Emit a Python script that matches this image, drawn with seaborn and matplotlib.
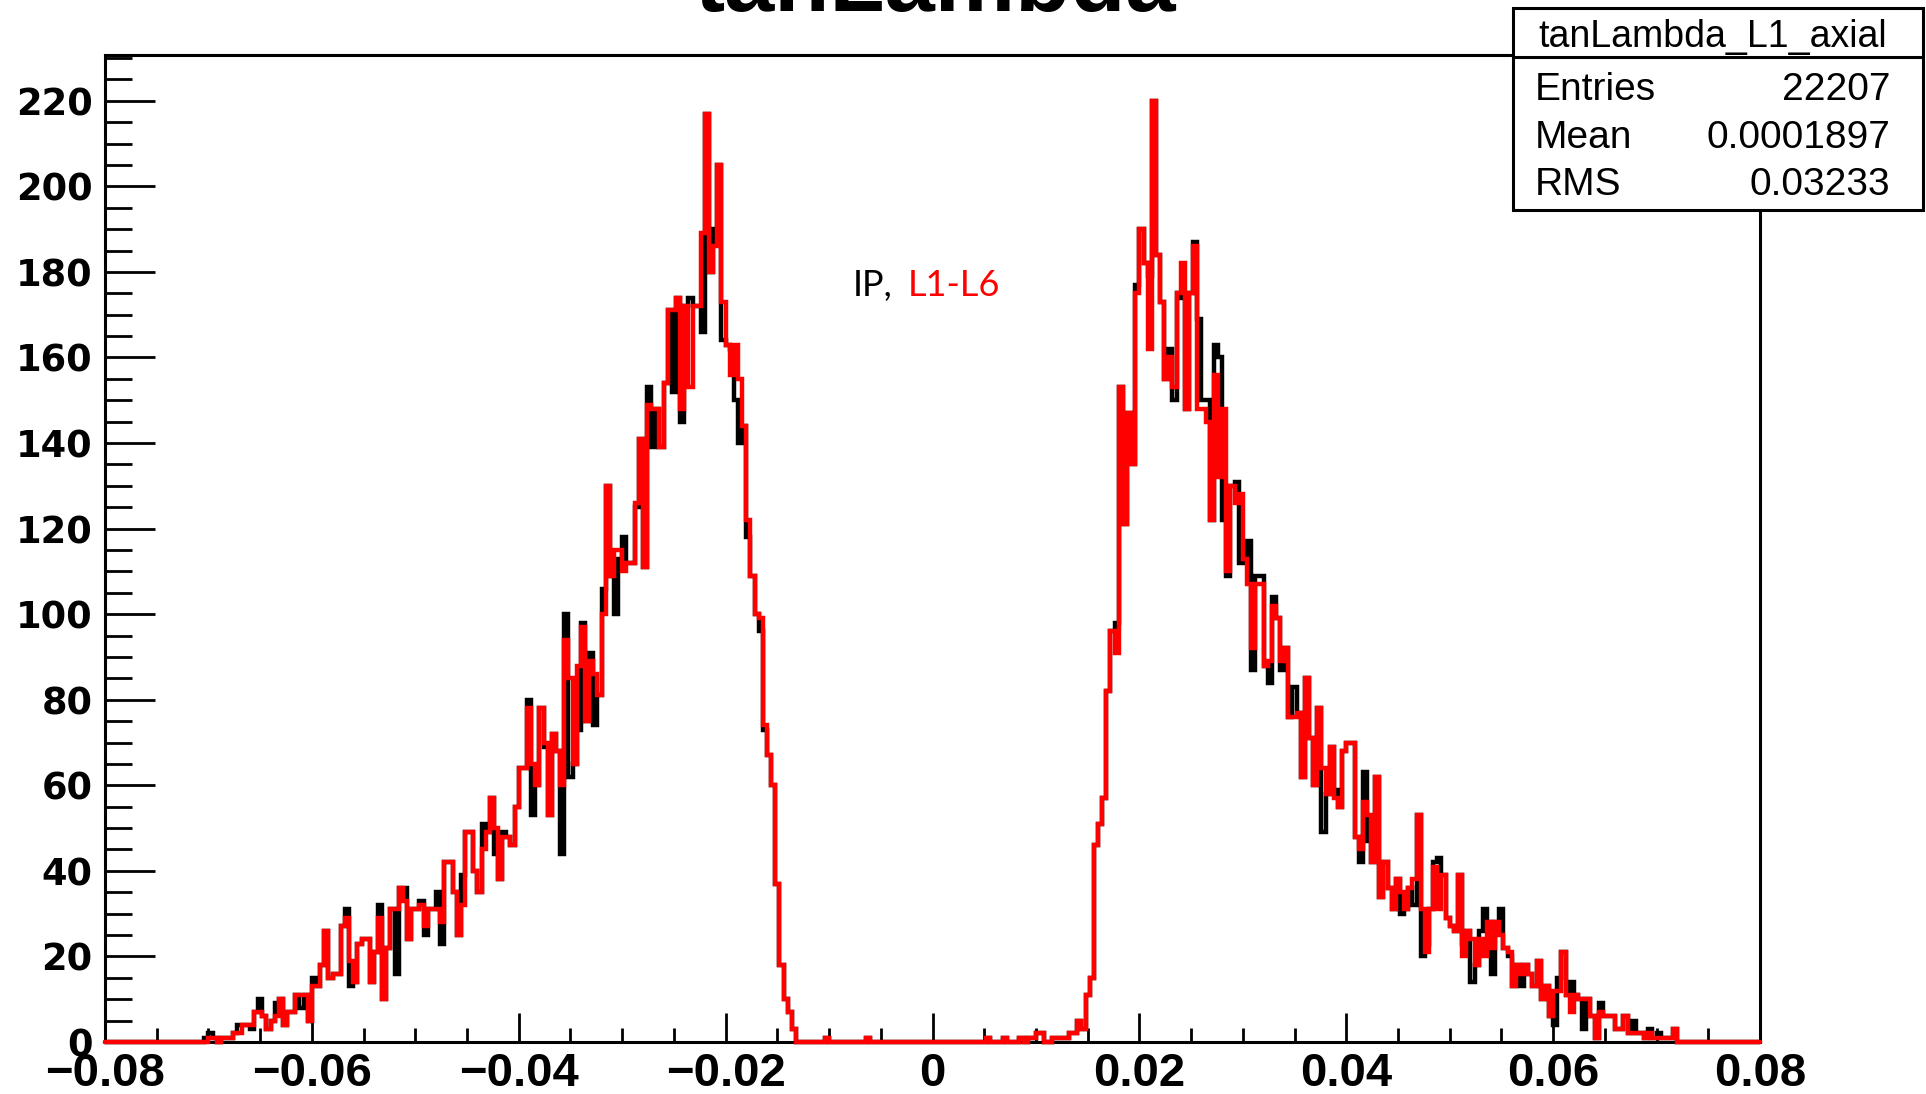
import numpy as np
import pandas as pd
import matplotlib
matplotlib.use("Agg")
import matplotlib.pyplot as plt
import seaborn as sns
from matplotlib.ticker import MultipleLocator
from matplotlib.patches import Rectangle
from matplotlib.lines import Line2D

# ---------------- data ----------------
N_BINS = 400
X_MIN, X_MAX = -0.08, 0.08

# red histogram "L1-L6": left peak, bins 25..166
red_left_first = 25
red_left = [
    1, 1, 0, 1, 1, 1, 2, 2, 4, 4,
    4, 7, 7, 6, 3, 5, 6, 10, 4, 7,
    7, 11, 11, 11, 5, 13, 13, 18, 26, 15,
    16, 16, 27, 29, 19, 14, 23, 24, 24, 14,
    21, 29, 10, 22, 31, 31, 36, 33, 24, 31,
    31, 32, 27, 31, 31, 31, 28, 42, 42, 35,
    25, 32, 49, 49, 40, 35, 45, 49, 57, 50,
    38, 48, 48, 46, 55, 64, 64, 78, 65, 60,
    78, 70, 53, 72, 68, 60, 94, 85, 65, 88,
    97, 75, 89, 86, 81, 100, 130, 109, 115, 115,
    110, 112, 112, 126, 141, 111, 149, 148, 148, 139,
    154, 171, 171, 174, 148, 172, 153, 172, 172, 189,
    217, 180, 186, 205, 173, 163, 156, 163, 155, 144,
    122, 109, 100, 99, 74, 67, 60, 37, 18, 10,
    7, 3,
]
# isolated entries in the central gap (bin, count)
red_center = [(174, 1), (184, 1), (213, 1), (217, 1), (221, 1), (223, 1),
              (224, 1), (225, 2), (226, 2), (229, 1), (230, 1)]
# right peak, bins 231..379
red_right_first = 231
red_right = [
    1, 1, 2, 2, 5, 3, 11, 15, 46, 51,
    57, 82, 96, 91, 153, 121, 147, 135, 175, 190,
    182, 162, 220, 184, 173, 155, 160, 153, 175, 182,
    148, 175, 186, 148, 148, 145, 122, 156, 132, 148,
    110, 130, 126, 128, 113, 107, 92, 107, 107, 88,
    89, 102, 99, 89, 92, 76, 76, 77, 62, 85,
    71, 60, 78, 64, 58, 69, 57, 55, 68, 70,
    70, 48, 45, 56, 53, 42, 62, 34, 42, 36,
    31, 38, 35, 31, 36, 38, 53, 31, 21, 31,
    41, 31, 39, 29, 27, 26, 39, 20, 26, 24,
    18, 24, 20, 28, 22, 28, 25, 22, 21, 13,
    18, 16, 18, 16, 13, 19, 10, 13, 6, 12,
    12, 21, 11, 7, 11, 10, 10, 10, 6, 1,
    7, 6, 6, 6, 3, 3, 6, 2, 2, 2,
    2, 1, 2, 1, 1, 1, 1, 1, 3,
]
# black histogram "IP": same as red except these bins (bin, count)
black_diff = [
    (24, 1), (25, 2), (32, 4), (35, 3), (37, 10), (41, 9), (47, 8), (50, 15),
    (58, 31), (59, 13), (66, 32), (70, 16), (72, 36), (76, 33), (77, 25),
    (80, 35), (81, 23), (86, 39), (91, 51), (94, 44), (96, 49), (102, 80),
    (103, 53), (106, 69), (110, 44), (111, 100), (112, 62), (114, 73),
    (115, 98), (117, 91), (118, 74), (120, 106), (123, 100), (124, 113),
    (125, 118), (128, 125), (131, 153), (132, 139), (137, 152), (139, 145),
    (141, 174), (144, 166), (147, 190), (149, 164), (151, 162), (152, 150),
    (153, 140), (155, 118), (158, 96), (159, 73),
    (244, 98), (249, 177), (252, 179), (257, 162), (258, 150), (260, 174),
    (263, 187), (264, 169), (265, 150), (266, 150), (268, 163), (269, 160),
    (270, 122), (271, 109), (273, 131), (274, 112), (276, 117), (277, 87),
    (278, 109), (279, 109), (281, 84), (282, 104), (284, 87), (287, 83),
    (294, 49), (297, 59), (303, 42), (304, 63), (305, 47), (313, 30),
    (316, 32), (318, 20), (319, 23), (321, 42), (322, 43), (328, 23),
    (330, 14), (332, 26), (333, 31), (335, 16), (337, 31), (339, 20),
    (342, 13), (350, 4), (351, 15), (354, 14), (357, 3), (361, 9),
    (369, 5), (373, 3), (375, 2),
]

xtick_vals = [-0.08, -0.06, -0.04, -0.02, 0.0, 0.02, 0.04, 0.06, 0.08]
xtick_labels = ["\u22120.08", "\u22120.06", "\u22120.04", "\u22120.02", "0",
                "0.02", "0.04", "0.06", "0.08"]
ytick_vals = list(range(0, 221, 20))
ytick_labels = [str(v) for v in ytick_vals]

stats_title = "tanLambda_L1_axial"
stats_names = ["Entries", "Mean", "RMS"]
stats_values = ["22207", "0.0001897", "0.03233"]

# ---------------- assemble ----------------
red = np.zeros(N_BINS)
red[red_left_first:red_left_first + len(red_left)] = red_left
for b, v in red_center:
    red[b] = v
red[red_right_first:red_right_first + len(red_right)] = red_right
black = red.copy()
for b, v in black_diff:
    black[b] = v

edges = np.linspace(X_MIN, X_MAX, N_BINS + 1)
centers = 0.5 * (edges[:-1] + edges[1:])
df = pd.DataFrame({
    "tanLambda": np.concatenate([centers, centers]),
    "count": np.concatenate([black, red]),
    "sample": ["IP"] * N_BINS + ["L1-L6"] * N_BINS,
})

# ---------------- figure ----------------
W, H = 1926, 1094
sns.set_style("white")
fig = plt.figure(figsize=(W / 100, H / 100), dpi=100)
fig.patch.set_facecolor("white")
L, R, T, B = 105, 1760, 55, 1042
ax = fig.add_axes([L / W, 1 - B / H, (R - L) / W, (B - T) / H])

for name, color in [("IP", "black"), ("L1-L6", "red")]:
    sns.histplot(data=df[df["sample"] == name], x="tanLambda", weights="count",
                 bins=N_BINS, binrange=(X_MIN, X_MAX), element="step",
                 fill=False, color=color, linewidth=3.2, ax=ax)

for i, ln in enumerate(ax.lines):
    ln.set_clip_on(False)
    ln.set_zorder(3 + i)
    ln.set_solid_joinstyle("miter")

ax.set_xlim(X_MIN, X_MAX)
ax.set_ylim(0, 230.7)
ax.set_xlabel("")
ax.set_ylabel("")

for s in ax.spines.values():
    s.set_visible(True)
    s.set_linewidth(2.2)
    s.set_color("black")
    s.set_zorder(2.5)

ax.set_xticks(xtick_vals, labels=xtick_labels, fontsize=34, fontweight="bold",
              family="Liberation Sans")
ax.set_yticks(ytick_vals, labels=ytick_labels, fontsize=26.5, fontweight="bold",
              family="DejaVu Sans")
ax.xaxis.set_minor_locator(MultipleLocator(0.005))
ax.yaxis.set_minor_locator(MultipleLocator(5))
ax.tick_params(axis="both", which="both", direction="in", top=False, right=False,
               bottom=True, left=True, color="black", labelcolor="black",
               width=2)
ax.tick_params(axis="x", which="major", length=21, pad=7)
ax.tick_params(axis="x", which="minor", length=10)
ax.tick_params(axis="y", which="major", length=36, pad=9)
ax.tick_params(axis="y", which="minor", length=19.5)

# title (cut off at the top edge, as in the reference)
fig.text(936 / W, 1 - 11 / H, "tanLambda", ha="center", va="baseline",
         fontsize=65, fontweight="bold", family="Liberation Sans", color="black")

# annotation
fig.text(853 / W, 1 - 296 / H, "IP,", ha="left", va="baseline", fontsize=26,
         family="Lato", color="black")
fig.text(908 / W, 1 - 296 / H, "L1-L6", ha="left", va="baseline", fontsize=26,
         family="Lato", color="red")

# stats box
bx0, bx1, by0, by1, bdiv = 1513, 1923, 8, 210, 57
fig.add_artist(Rectangle((bx0 / W, 1 - by1 / H), (bx1 - bx0) / W, (by1 - by0) / H,
                         transform=fig.transFigure, facecolor="white",
                         edgecolor="black", linewidth=2.2, zorder=10))
fig.add_artist(Line2D([bx0 / W, bx1 / W], [1 - bdiv / H, 1 - bdiv / H],
                      transform=fig.transFigure, color="black", linewidth=2.2,
                      zorder=11))
fig.text(1713 / W, 1 - 47 / H, stats_title, ha="center", va="baseline",
         fontsize=27, family="Liberation Sans", color="black", zorder=12)
for k, (nm, val) in enumerate(zip(stats_names, stats_values)):
    yb = [100, 148, 195][k]
    fig.text(1535 / W, 1 - yb / H, nm, ha="left", va="baseline", fontsize=28,
             family="Liberation Sans", color="black", zorder=12)
    fig.text(1890 / W, 1 - yb / H, val, ha="right", va="baseline", fontsize=28,
             family="Liberation Sans", color="black", zorder=12)

fig.savefig("out.png", dpi=100)
